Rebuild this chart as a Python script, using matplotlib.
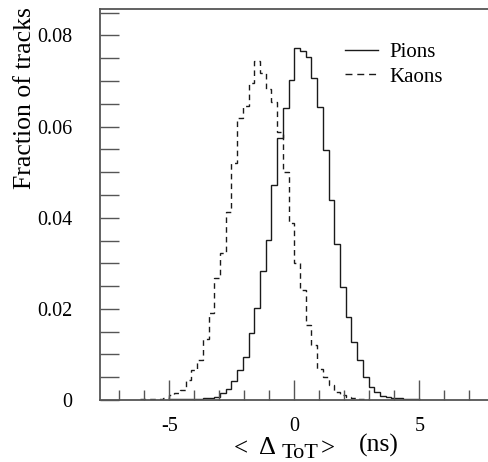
import numpy as np
import matplotlib.pyplot as plt
from matplotlib.lines import Line2D
from matplotlib.ticker import MultipleLocator

plt.rcParams['font.family'] = ['Liberation Serif', 'DejaVu Serif']
plt.rcParams['axes.unicode_minus'] = False

# binning of both histograms: 70 bins between -8 and 8 ns
hist_range = (-8.0, 8.0)
n_bins = 70

# fraction of tracks per bin
pion_first_bin = 13
pions = [0.0002, 0.0002, 0.0002, 0.0002, 0.0003, 0.0003, 0.0004, 0.0004, 0.0007, 0.0016,
         0.0024, 0.0042, 0.0066, 0.0095, 0.0147, 0.0202, 0.0282, 0.0352, 0.0472, 0.0576,
         0.0641, 0.0702, 0.0772, 0.0766, 0.0753, 0.0706, 0.0644, 0.0548, 0.0439, 0.0342,
         0.0248, 0.0183, 0.0128, 0.0088, 0.0051, 0.0029, 0.0018, 0.0009, 0.0007, 0.0004,
         0.0004, 0.0003, 0.0002, 0.0002]
kaon_first_bin = 8
kaons = [0.0002, 0.0002, 0.0002, 0.0003, 0.0004, 0.0012, 0.0016, 0.0023, 0.0044, 0.0066,
         0.0088, 0.0134, 0.0190, 0.0267, 0.0322, 0.0413, 0.0520, 0.0618, 0.0646, 0.0695,
         0.0744, 0.0717, 0.0682, 0.0654, 0.0588, 0.0500, 0.0388, 0.0300, 0.0241, 0.0165,
         0.0121, 0.0068, 0.0050, 0.0032, 0.0018, 0.0011, 0.0006, 0.0004, 0.0002, 0.0002]

yticks = [0, 0.02, 0.04, 0.06, 0.08]
ytick_labels = ['0', '0.02', '0.04', '0.06', '0.08']
xticks = [-5, 0, 5]
xtick_labels = ['-5', '0', '5']

edges = np.linspace(*hist_range, n_bins + 1)
line_col, axis_col = '#1a1a1a', '#555555'
W, H = 488, 462

fig = plt.figure(figsize=(W / 100, H / 100), dpi=100)
ax = fig.add_axes([100 / W, 1 - 400 / H, 388 / W, 391 / H])

def draw(vals, first, **kw):
    e = edges[first:first + len(vals) + 1]
    ax.stairs(vals, e, baseline=None, color=line_col, lw=1.0, **kw)

draw(pions, pion_first_bin)
draw(kaons, kaon_first_bin, linestyle=(0, (4, 3)))

ax.set_xlim(-7.77, 7.75)
ax.set_ylim(0, 0.0858)
ax.set_xticks(xticks, xtick_labels)
ax.set_yticks(yticks, ytick_labels)
ax.xaxis.set_minor_locator(MultipleLocator(1))
ax.yaxis.set_minor_locator(MultipleLocator(0.005))
ax.tick_params(axis='both', which='both', direction='in', colors=axis_col, labelcolor='black',
               labelsize=14.5, width=1.0, right=False, top=False)
ax.tick_params(axis='x', which='major', length=14.4, pad=12)
ax.tick_params(axis='x', which='minor', length=7.2)
ax.tick_params(axis='y', which='both', length=13.7, pad=20)
ax.spines['right'].set_visible(False)
for s in ['left', 'top', 'bottom']:
    ax.spines[s].set_color(axis_col); ax.spines[s].set_linewidth(1.3)

ax.set_ylabel('Fraction of tracks', fontsize=18.5, loc='top')
ax.yaxis.set_label_coords(-0.165, 1.005)

# x title built from pieces: "< Δ_ToT>   (ns)"
def piece(x, y, s, size):
    fig.text(x / W, 1 - y / H, s, fontsize=size, ha='left', va='baseline')
piece(234, 455, '<', 18)
piece(259, 454, 'Δ', 19)
piece(282, 458, 'ToT', 16)
piece(321, 455, '>', 18)
piece(359, 452, '(ns)', 18.5)

handles = [Line2D([], [], color=line_col, lw=1.0),
           Line2D([], [], color=line_col, lw=1.0, linestyle=(0, (5, 3.5)))]
ax.legend(handles, ['Pions', 'Kaons'], loc='upper left', bbox_to_anchor=(0.631, 0.915),
          frameon=False, fontsize=15, handlelength=1.6, handletextpad=0.55,
          labelspacing=0.25, borderpad=0, borderaxespad=0)

fig.savefig('out.png', dpi=100)
